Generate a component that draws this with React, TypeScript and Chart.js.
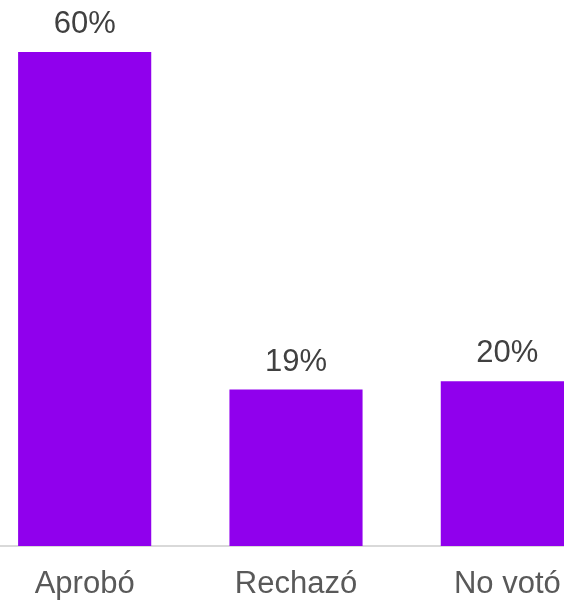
import React, { useEffect, useRef } from "react";
import { Chart, registerables } from "chart.js";

Chart.register(...registerables);

const categories = ["Aprobó", "Rechazó", "No votó"];
const values = [60, 19, 20];
const valueLabels = ["60%", "19%", "20%"];

const BAR_COLOR = "#9000ED";
const FONT = "'Liberation Sans', Arial, sans-serif";

const valueLabelPlugin = {
  id: "valueLabels",
  afterDatasetsDraw(chart: any) {
    const ctx = chart.ctx;
    const meta = chart.getDatasetMeta(0);
    ctx.save();
    ctx.font = `31px ${FONT}`;
    ctx.fillStyle = "#404040";
    ctx.textAlign = "center";
    ctx.textBaseline = "alphabetic";
    meta.data.forEach((bar: any, i: number) => {
      ctx.fillText(valueLabels[i], bar.x, bar.y - 19);
    });
    ctx.restore();
  },
};

export default function App() {
  const ref = useRef<HTMLCanvasElement>(null);
  useEffect(() => {
    if (!ref.current) return;
    const chart = new Chart(ref.current, {
      type: "bar",
      data: {
        labels: categories,
        datasets: [
          {
            data: values,
            backgroundColor: BAR_COLOR,
            borderWidth: 0,
            barPercentage: 0.63,
            categoryPercentage: 1,
          },
        ],
      },
      options: {
        responsive: false,
        animation: false,
        layout: { padding: { top: 52, left: 0, right: 0, bottom: 0 } },
        plugins: {
          legend: { display: false },
          tooltip: { enabled: false },
        },
        scales: {
          x: {
            grid: { display: false, drawTicks: false },
            border: { display: true, color: "#d9d9d9", width: 2 },
            ticks: {
              font: { family: FONT, size: 31 },
              color: "#595959",
              padding: 20,
            },
            afterFit(scale: any) {
              scale.height = 58;
            },
          },
          y: {
            display: false,
            min: 0,
            max: 60,
          },
        },
      },
      plugins: [valueLabelPlugin],
    });
    return () => chart.destroy();
  }, []);
  return (
    <div
      style={{
        position: "absolute",
        left: 0,
        top: 0,
        width: 564,
        height: 604,
        overflow: "hidden",
        background: "#fff",
      }}
    >
      <canvas
        ref={ref}
        width={634}
        height={604}
        style={{ position: "absolute", left: -21, top: 0, width: 634, height: 604 }}
      />
    </div>
  );
}
